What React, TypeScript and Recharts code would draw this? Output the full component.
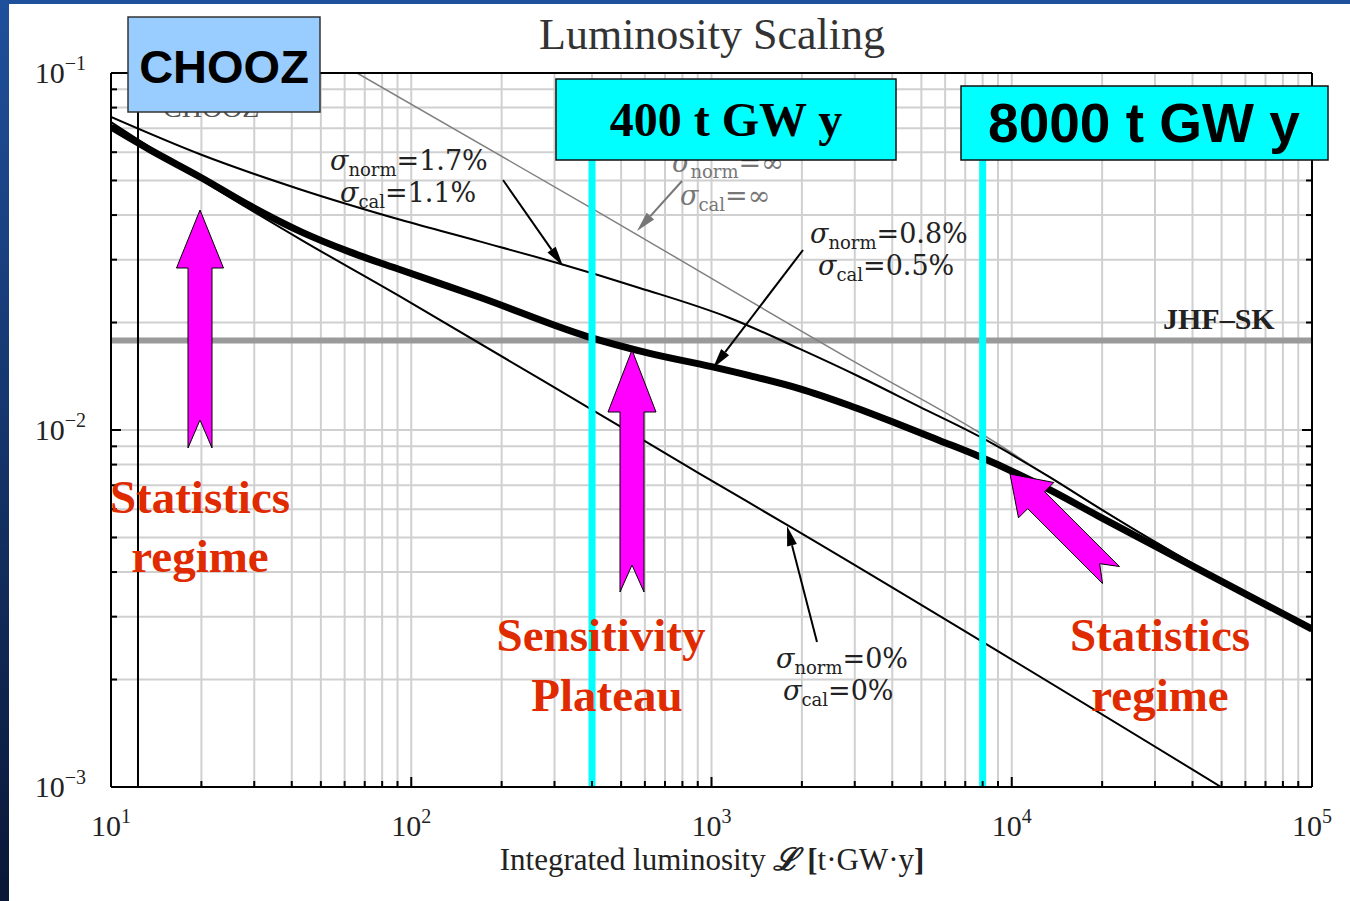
import React from 'react'
import { LineChart, Line, XAxis, YAxis, CartesianGrid, ReferenceLine } from 'recharts'

// decades shown on the axes
const xDecades = [10, 100, 1000, 10000, 100000]
const yDecades = [0.001, 0.01, 0.1]
const multiples = [1, 2, 3, 4, 5, 6, 7, 8, 9]

// curves: [luminosity, sensitivity]
const sigma08 = [
  [10, 0.0706], [13.5, 0.0609], [20, 0.0509], [29, 0.0425], [43, 0.0359], [62, 0.0316],
  [92, 0.0281], [170, 0.0235], [384, 0.0183], [622, 0.0164], [1000, 0.01505], [1340, 0.0142],
  [1960, 0.01306], [2880, 0.01171], [4220, 0.01036], [5740, 0.00935], [7800, 0.00843],
  [13300, 0.00682], [19500, 0.00573], [42000, 0.00407], [100000, 0.00277],
]
const sigma17 = [
  [10, 0.0753], [20, 0.059], [43, 0.0471], [92, 0.0388], [170, 0.0337], [305, 0.0294],
  [576, 0.025], [1150, 0.0206], [1960, 0.0169], [3110, 0.0141], [4920, 0.01163],
  [7800, 0.00959], [13300, 0.0074], [19500, 0.00605], [28700, 0.00497], [42000, 0.00413],
  [100000, 0.0028],
]
const sigmaInf = [
  [66, 0.1], [402, 0.04165], [3110, 0.01525], [7800, 0.00984], [13300, 0.0074],
  [19500, 0.00605], [28700, 0.00497], [42000, 0.00413], [100000, 0.0028],
]
const sigma0 = [
  [10, 0.0729], [20, 0.0502], [43, 0.0341], [92, 0.02363], [384, 0.01163],
  [912, 0.00755], [1820, 0.00537], [49800, 0.001],
]
const jhfSk = 0.0178
const choozLimit = 12.3
const exposures = [400, 8000]

const toRows = (pts: number[][]) => pts.map(([x, y]) => ({ x, y }))

const buildTicks = (decades: number[]) => {
  const out: number[] = []
  decades.slice(0, -1).forEach((d) => multiples.forEach((m) => out.push(d * m)))
  out.push(decades[decades.length - 1])
  return out
}
const xTicks = buildTicks(xDecades)
const yTicks = buildTicks(yDecades)

const isDecade = (v: number) => Math.abs(Math.log10(v) - Math.round(Math.log10(v))) < 1e-6
const expOf = (v: number) => {
  const e = Math.round(Math.log10(v))
  return e < 0 ? '\u2212' + -e : String(e)
}

const serif = '"Liberation Serif", "DejaVu Serif", serif'
const texSerif = '"DejaVu Serif", "Liberation Serif", serif'
const sans = '"Liberation Sans", Arial, sans-serif'

const Pow = ({ x, y, v, anchor }: { x: number; y: number; v: number; anchor: 'middle' | 'end' }) => (
  <text x={x} y={y} textAnchor={anchor} fontFamily={serif} fontSize={30} fill="#222">
    <tspan>10</tspan>
    <tspan dy={-13} fontSize={20}>{expOf(v)}</tspan>
  </text>
)

const BottomTick = (p: any) => {
  const major = isDecade(p.payload.value)
  return (
    <g>
      <line x1={p.x} x2={p.x} y1={p.y} y2={p.y - (major ? 10 : 6)} stroke="#000" strokeWidth={2} />
      {major && <Pow x={p.x} y={p.y + 49} v={p.payload.value} anchor="middle" />}
    </g>
  )
}
const TopTick = (p: any) => (
  <line x1={p.x} x2={p.x} y1={p.y} y2={p.y + (isDecade(p.payload.value) ? 10 : 6)} stroke="#000" strokeWidth={2} />
)
const LeftTick = (p: any) => {
  const major = isDecade(p.payload.value)
  return (
    <g>
      <line x1={p.x} x2={p.x + (major ? 10 : 6)} y1={p.y} y2={p.y} stroke="#000" strokeWidth={2} />
      {major && <Pow x={p.x - 25} y={p.y + 10} v={p.payload.value} anchor="end" />}
    </g>
  )
}
const RightTick = (p: any) => (
  <line x1={p.x} x2={p.x - (isDecade(p.payload.value) ? 10 : 6)} y1={p.y} y2={p.y} stroke="#000" strokeWidth={2} />
)

type Pt = [number, number]
const notchedArrow = (tip: Pt, tail: Pt, headLen: number, headW: number, shaftW: number, notch: number) => {
  const dx = tip[0] - tail[0]
  const dy = tip[1] - tail[1]
  const L = Math.hypot(dx, dy)
  const u = [dx / L, dy / L]
  const n = [-u[1], u[0]]
  const at = (b: Pt, a: number, c: number) => `${b[0] + u[0] * a + n[0] * c},${b[1] + u[1] * a + n[1] * c}`
  return [
    at(tip, 0, 0),
    at(tip, -headLen, headW / 2),
    at(tip, -headLen, shaftW / 2),
    at(tail, 0, shaftW / 2),
    at(tail, notch, 0),
    at(tail, 0, -shaftW / 2),
    at(tip, -headLen, -shaftW / 2),
    at(tip, -headLen, -headW / 2),
  ].join(' ')
}

const Pointer = ({ from, to, color }: { from: Pt; to: Pt; color: string }) => {
  const dx = to[0] - from[0]
  const dy = to[1] - from[1]
  const L = Math.hypot(dx, dy)
  const u = [dx / L, dy / L]
  const n = [-u[1], u[0]]
  const b = [to[0] - u[0] * 20, to[1] - u[1] * 20]
  const head = `${to[0]},${to[1]} ${b[0] + n[0] * 5},${b[1] + n[1] * 5} ${b[0] - n[0] * 5},${b[1] - n[1] * 5}`
  return (
    <g>
      <line x1={from[0]} y1={from[1]} x2={b[0]} y2={b[1]} stroke={color} strokeWidth={2} />
      <polygon points={head} fill={color} />
    </g>
  )
}

const Sigma = ({ x, y, sub, val, color = '#222' }: { x: number; y: number; sub: string; val: string; color?: string }) => (
  <text x={x} y={y} fontFamily={texSerif} fontSize={27} fill={color}>
    <tspan fontStyle="italic">σ</tspan>
    <tspan fontSize={18} dy={6}>{sub}</tspan>
    <tspan dy={-6}>{val}</tspan>
  </text>
)

const red = '#e02a00'
const magenta = '#ff00ff'

export default function App() {
  return (
    <div
      style={{
        position: 'absolute',
        left: 0,
        top: 0,
        width: 1350,
        height: 901,
        background: 'linear-gradient(to bottom, #1f509c, #0a1736)',
        overflow: 'hidden',
      }}
    >
      <div style={{ position: 'absolute', left: 9, top: 4, width: 1341, height: 897, background: '#fff' }} />
      <div style={{ position: 'absolute', left: 0, top: 0 }}>
        <LineChart width={1350} height={901} margin={{ top: 72, right: 37, bottom: 74, left: 51 }}>
          <CartesianGrid stroke="#d0d0d0" strokeWidth={2} />
          <XAxis
            dataKey="x"
            type="number"
            scale="log"
            domain={[10, 100000]}
            allowDataOverflow
            ticks={xTicks}
            interval={0}
            height={40}
            tickSize={0}
            tickMargin={0}
            tick={BottomTick}
            axisLine={{ stroke: '#000', strokeWidth: 2 }}
          />
          <XAxis
            xAxisId="top"
            orientation="top"
            type="number"
            scale="log"
            domain={[10, 100000]}
            allowDataOverflow
            ticks={xTicks}
            interval={0}
            height={1}
            tickSize={0}
            tickMargin={0}
            tick={TopTick}
            axisLine={{ stroke: '#000', strokeWidth: 2 }}
          />
          <YAxis
            type="number"
            scale="log"
            domain={[0.001, 0.1]}
            allowDataOverflow
            ticks={yTicks}
            interval={0}
            width={60}
            tickSize={0}
            tickMargin={0}
            tick={LeftTick}
            axisLine={{ stroke: '#000', strokeWidth: 2 }}
          />
          <YAxis
            yAxisId="right"
            orientation="right"
            type="number"
            scale="log"
            domain={[0.001, 0.1]}
            allowDataOverflow
            ticks={yTicks}
            interval={0}
            width={1}
            tickSize={0}
            tickMargin={0}
            tick={RightTick}
            axisLine={{ stroke: '#000', strokeWidth: 2 }}
          />
          <ReferenceLine y={jhfSk} stroke="#9a9a9a" strokeWidth={6} />
          <ReferenceLine x={choozLimit} stroke="#000" strokeWidth={2} />
          <Line data={toRows(sigmaInf)} dataKey="y" type="monotone" stroke="#808080" strokeWidth={1.5} dot={false} isAnimationActive={false} />
          <Line data={toRows(sigma0)} dataKey="y" type="monotone" stroke="#000" strokeWidth={2} dot={false} isAnimationActive={false} />
          <Line data={toRows(sigma17)} dataKey="y" type="monotone" stroke="#000" strokeWidth={2} dot={false} isAnimationActive={false} />
          <Line data={toRows(sigma08)} dataKey="y" type="monotone" stroke="#000" strokeWidth={7} dot={false} isAnimationActive={false} />
          {exposures.map((e) => (
            <ReferenceLine key={e} segment={[{ x: e, y: 0.057 }, { x: e, y: 0.001 }]} stroke="#00ffff" strokeWidth={7} />
          ))}
        </LineChart>
      </div>
      <svg width={1350} height={901} style={{ position: 'absolute', left: 0, top: 0, pointerEvents: 'none' }}>
        <text x={712} y={49} textAnchor="middle" fontFamily={serif} fontSize={44} fill="#333">
          Luminosity Scaling
        </text>
        <text x={712} y={870} textAnchor="middle" fontFamily={serif} fontSize={31} fill="#222">
          Integrated luminosity <tspan fontWeight="bold" fontStyle="italic">ℒ</tspan>{' '}
          <tspan fontWeight="bold">[</tspan>t·GW·y<tspan fontWeight="bold">]</tspan>
        </text>

        <text x={163} y={117} fontFamily={serif} fontSize={28} fill="#555">CHOOZ</text>

        <Sigma x={330} y={170} sub="norm" val="=1.7%" />
        <Sigma x={340} y={202} sub="cal" val="=1.1%" />
        <Sigma x={672} y={172} sub="norm" val="=∞" color="#777" />
        <Sigma x={680} y={205} sub="cal" val="=∞" color="#777" />
        <Sigma x={810} y={243} sub="norm" val="=0.8%" />
        <Sigma x={818} y={275} sub="cal" val="=0.5%" />
        <Sigma x={776} y={668} sub="norm" val="=0%" />
        <Sigma x={783} y={700} sub="cal" val="=0%" />
        <text x={1163} y={329} fontFamily={serif} fontWeight="bold" fontSize={30} fill="#222">JHF–SK</text>

        <Pointer from={[503, 180]} to={[563, 266]} color="#000" />
        <Pointer from={[682, 181]} to={[637, 231]} color="#777" />
        <Pointer from={[803, 250]} to={[713, 368]} color="#000" />
        <Pointer from={[817, 642]} to={[787, 526]} color="#000" />

        <polygon points={notchedArrow([200, 210], [200, 448], 58, 47, 24, 28)} fill={magenta} stroke="#000" strokeWidth={1} />
        <polygon points={notchedArrow([632, 350], [632, 592], 62, 48, 24, 27)} fill={magenta} stroke="#000" strokeWidth={1} />
        <polygon points={notchedArrow([1010, 474], [1111, 575], 37, 50, 24, 16)} fill={magenta} stroke="#000" strokeWidth={1} />

        <g fontFamily={serif} fontWeight="bold" fontSize={47} fill={red} textAnchor="middle">
          <text x={200} y={513}>Statistics</text>
          <text x={200} y={572}>regime</text>
          <text x={601} y={651}>Sensitivity</text>
          <text x={607} y={711}>Plateau</text>
          <text x={1160} y={651}>Statistics</text>
          <text x={1160} y={711}>regime</text>
        </g>

        <rect x={128} y={17} width={192} height={95} fill="#99ccff" stroke="#333" strokeWidth={1.5} />
        <text x={224} y={83} textAnchor="middle" fontFamily={sans} fontWeight="bold" fontSize={47} fill="#000">CHOOZ</text>
        <rect x={556} y={79} width={340} height={81} fill="#00ffff" stroke="#111" strokeWidth={1.5} />
        <text x={726} y={136} textAnchor="middle" fontFamily={serif} fontWeight="bold" fontSize={48} fill="#000">400 t GW y</text>
        <rect x={961} y={86} width={367} height={74} fill="#00ffff" stroke="#111" strokeWidth={1.5} />
        <text x={1144} y={142} textAnchor="middle" fontFamily={sans} fontWeight="bold" fontSize={55} fill="#000">8000 t GW y</text>
      </svg>
    </div>
  )
}
